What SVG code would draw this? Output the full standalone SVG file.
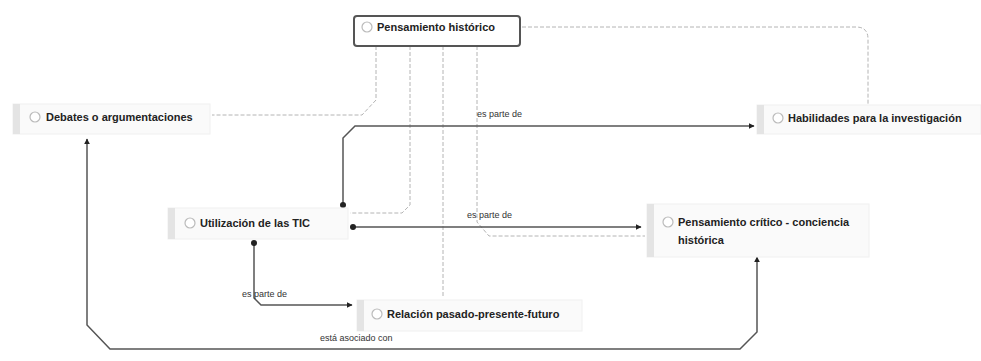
<svg xmlns="http://www.w3.org/2000/svg" width="981" height="361" viewBox="0 0 981 361">
<defs>
<style>
.bg{fill:#fafafa;stroke:#f0f0f0;stroke-width:1}
.bar{fill:#e4e4e4}
.ico{fill:#fff;stroke:#bbb;stroke-width:1.2}
.t{font-family:"Liberation Sans",Arial,sans-serif;font-size:11px;fill:#222;font-weight:bold}
.lbl{font-family:"Liberation Sans",Arial,sans-serif;font-size:9px;fill:#333}
.dash{fill:none;stroke:#b4b4b4;stroke-width:1;stroke-dasharray:4 2}
.sol{fill:none;stroke:#555;stroke-width:1.5}
</style>
<marker id="arr" viewBox="0 0 10 10" refX="9" refY="5" markerWidth="6" markerHeight="6" orient="auto-start-reverse" markerUnits="userSpaceOnUse">
<path d="M0,0 L10,5 L0,10 z" fill="#222"/>
</marker>
<marker id="dot" viewBox="0 0 10 10" refX="5" refY="5" markerWidth="6" markerHeight="6" markerUnits="userSpaceOnUse">
<circle cx="5" cy="5" r="5" fill="#222"/>
</marker>
</defs>
<rect width="981" height="361" fill="#fff"/>

<g id="connectors">
<path class="dash" d="M522,27 H856 Q868,27 868,39 V104"/>
<path class="dash" d="M376,46 V100 L362,115 H212"/>
<path class="dash" d="M410,46 V205 L402,213 H350"/>
<path class="dash" d="M443,46 V298"/>
<path class="dash" d="M477,46 V222 L489,236 H645"/>
<path class="sol" d="M343,205 V138 L355,126 H754" marker-start="url(#dot)" marker-end="url(#arr)"/>
<path class="sol" d="M353,227 H641" marker-start="url(#dot)" marker-end="url(#arr)"/>
<path class="sol" d="M254,243 V298 L261,305 H352" marker-start="url(#dot)" marker-end="url(#arr)"/>
<path class="sol" d="M87,139 V325 L110,349 H740 L757,332 V257" marker-start="url(#arr)" marker-end="url(#arr)"/>
<text class="lbl" x="477" y="117">es parte de</text>
<text class="lbl" x="467" y="218">es parte de</text>
<text class="lbl" x="242" y="297">es parte de</text>
<text class="lbl" x="320" y="341">está asociado con</text>
</g>

<g id="n-pensamiento-historico">
<rect x="354" y="16" width="166" height="30" rx="3" fill="#fff" stroke="#555" stroke-width="2"/>
<circle class="ico" cx="367" cy="27" r="5"/>
<text class="t" x="377" y="31">Pensamiento histórico</text>
</g>

<g id="n-debates">
<rect class="bg" x="13" y="104" width="197" height="30"/>
<rect class="bar" x="13" y="104" width="7" height="30"/>
<circle class="ico" cx="35" cy="117" r="5"/>
<text class="t" x="46" y="121">Debates o argumentaciones</text>
</g>

<g id="n-habilidades">
<rect class="bg" x="757" y="105" width="224" height="29"/>
<rect class="bar" x="757" y="105" width="7" height="29"/>
<circle class="ico" cx="778" cy="118" r="5"/>
<text class="t" x="788" y="122">Habilidades para la investigación</text>
</g>

<g id="n-utilizacion">
<rect class="bg" x="168" y="208" width="180" height="31"/>
<rect class="bar" x="168" y="208" width="7" height="31"/>
<circle class="ico" cx="190" cy="223" r="5"/>
<text class="t" x="200" y="227">Utilización de las TIC</text>
</g>

<g id="n-pensamiento-critico">
<rect class="bg" x="647" y="204" width="222" height="53"/>
<rect class="bar" x="647" y="204" width="7" height="53"/>
<circle class="ico" cx="668" cy="222" r="5"/>
<text class="t" x="678" y="226">Pensamiento crítico - conciencia</text>
<text class="t" x="678" y="244">histórica</text>
</g>

<g id="n-relacion">
<rect class="bg" x="357" y="300" width="225" height="31"/>
<rect class="bar" x="357" y="300" width="7" height="31"/>
<circle class="ico" cx="377" cy="314" r="5"/>
<text class="t" x="387" y="318">Relación pasado-presente-futuro</text>
</g>
</svg>
